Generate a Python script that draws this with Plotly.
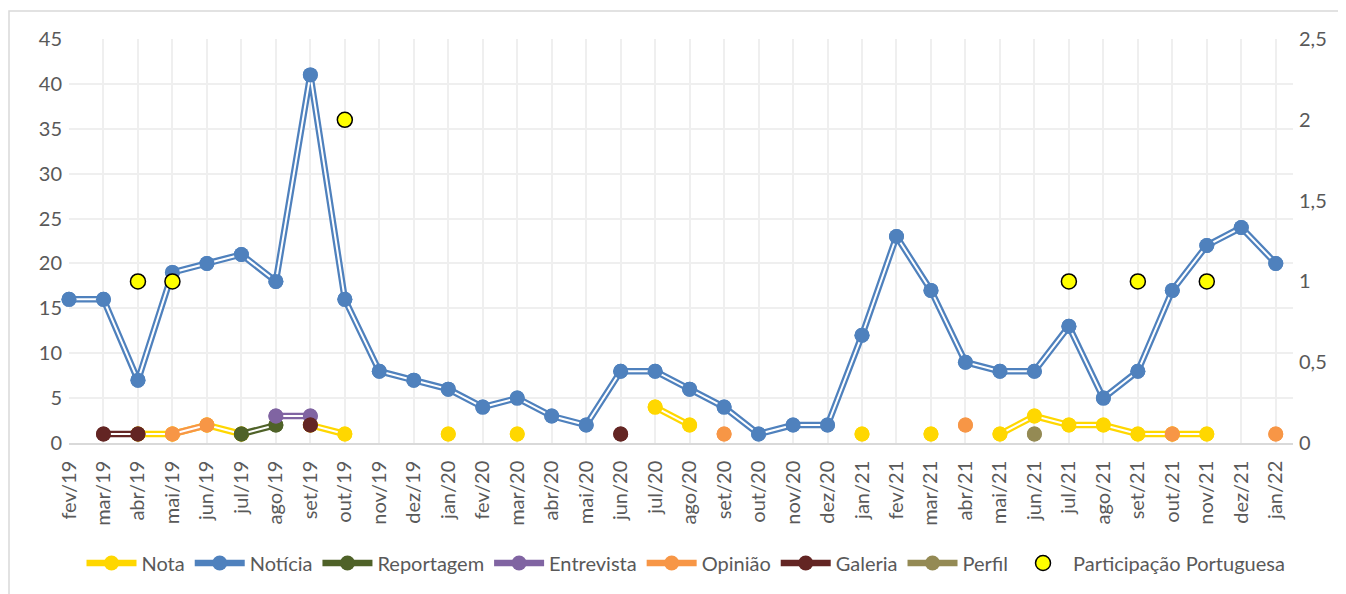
import plotly.graph_objects as go

months = ["fev/19", "mar/19", "abr/19", "mai/19", "jun/19", "jul/19", "ago/19", "set/19",
          "out/19", "nov/19", "dez/19", "jan/20", "fev/20", "mar/20", "abr/20", "mai/20",
          "jun/20", "jul/20", "ago/20", "set/20", "out/20", "nov/20", "dez/20", "jan/21",
          "fev/21", "mar/21", "abr/21", "mai/21", "jun/21", "jul/21", "ago/21", "set/21",
          "out/21", "nov/21", "dez/21", "jan/22"]

N = None
nota = [N, N, 1, 1, 2, 1, N, 2, 1, N, N, 1, N, 1, N, N, N, 4, 2, N, N, N, N, 1,
        N, 1, N, 1, 3, 2, 2, 1, 1, 1, N, N]
noticia = [16, 16, 7, 19, 20, 21, 18, 41, 16, 8, 7, 6, 4, 5, 3, 2, 8, 8, 6, 4, 1, 2, 2, 12,
           23, 17, 9, 8, 8, 13, 5, 8, 17, 22, 24, 20]
reportagem = [N, N, N, N, N, 1, 2, N, N, N, N, N, N, N, N, N, N, N, N, N, N, N, N, N,
              N, N, N, N, N, N, N, N, N, N, N, N]
entrevista = [N, N, N, N, N, N, 3, 3, N, N, N, N, N, N, N, N, N, N, N, N, N, N, N, N,
              N, N, N, N, N, N, N, N, N, N, N, N]
opiniao = [N, N, N, 1, 2, N, N, N, N, N, N, N, N, N, N, N, N, N, N, 1, N, N, N, N,
           N, N, 2, N, N, N, N, N, 1, N, N, 1]
galeria = [N, 1, 1, N, N, N, N, 2, N, N, N, N, N, N, N, N, 1, N, N, N, N, N, N, N,
           N, N, N, N, N, N, N, N, N, N, N, N]
perfil = [N, N, N, N, N, N, N, N, N, N, N, N, N, N, N, N, N, N, N, N, N, N, N, N,
          N, N, N, N, 1, N, N, N, N, N, N, N]
participacao = [N, N, 1, 1, N, N, N, N, 2, N, N, N, N, N, N, N, N, N, N, N, N, N, N, N,
                N, N, N, N, N, 1, N, 1, N, 1, N, N]

series = [
    ("Nota", nota, "#FFD700"),
    ("Notícia", noticia, "#4F81BD"),
    ("Reportagem", reportagem, "#4F6228"),
    ("Entrevista", entrevista, "#8064A2"),
    ("Opinião", opiniao, "#F79646"),
    ("Galeria", galeria, "#632523"),
    ("Perfil", perfil, "#948A54"),
]

FONT = "Lato"
GREY = "#595959"
FS = 20

fig = go.Figure()
for name, vals, color in series:
    fig.add_trace(go.Scatter(x=months, y=vals, name=name, mode="lines+markers",
                             line=dict(color=color, width=6.5), connectgaps=False,
                             marker=dict(color=color, size=15), cliponaxis=False,
                             legendgroup=name, showlegend=True))
    fig.add_trace(go.Scatter(x=months, y=vals, mode="lines", hoverinfo="skip",
                             line=dict(color="white", width=2), connectgaps=False,
                             cliponaxis=False, legendgroup=name, showlegend=False))
    fig.add_trace(go.Scatter(x=months, y=vals, mode="markers", hoverinfo="skip",
                             marker=dict(color=color, size=15), cliponaxis=False,
                             legendgroup=name, showlegend=False))

fig.add_trace(go.Scatter(x=months, y=participacao, name="Participação Portuguesa",
                         mode="markers", yaxis="y2", cliponaxis=False,
                         marker=dict(color="#FFFF00", size=15,
                                     line=dict(color="black", width=1.5))))

# page body has an 8px margin, so the figure is offset by (8, 8) in the window
OFF = 8
W, H = 1346 - OFF, 594 - OFF
L, T = 69 - OFF, 39 - OFF
R = W - (1293 - OFF)
B = H - (443 - OFF)
pw, ph = W - L - R, H - T - B

fig.update_layout(
    width=W, height=H,
    margin=dict(l=L, r=R, t=T, b=B),
    paper_bgcolor="white", plot_bgcolor="white",
    separators=",.",
    font=dict(family=FONT, size=FS, color=GREY),
    xaxis=dict(type="category", range=[0, 35.5], showgrid=True, gridcolor="#efefef",
               gridwidth=1.5, tickangle=-90, ticks="", showline=True,
               linecolor="#d9d9d9", linewidth=1.5, ticklabelstandoff=8,
               tickfont=dict(family=FONT, size=FS, color=GREY)),
    yaxis=dict(range=[0, 45], dtick=5, showgrid=True, gridcolor="#efefef", gridwidth=1.5,
               zeroline=False, ticks="", ticklabelstandoff=6,
               tickfont=dict(family=FONT, size=FS, color=GREY)),
    yaxis2=dict(range=[0, 2.5], dtick=0.5, overlaying="y", side="right", showgrid=False,
                zeroline=False, ticks="", ticklabelstandoff=5,
                tickfont=dict(family=FONT, size=FS, color=GREY)),
    legend=dict(orientation="h", x=(686 - 69) / pw, xanchor="center",
                y=(443 - 563) / ph, yanchor="middle",
                font=dict(family=FONT, size=FS, color=GREY),
                itemwidth=50, bgcolor="rgba(0,0,0,0)"),
    showlegend=True,
)

fig.add_shape(type="rect", xref="paper", yref="paper",
              x0=(9 - 69) / pw, x1=(1346 + 5 - 69) / pw,
              y0=(443 - (594 + 5)) / ph, y1=(443 - 11) / ph,
              line=dict(color="#d9d9d9", width=1.5), fillcolor="rgba(0,0,0,0)",
              layer="below")

fig.write_html("out.html")
